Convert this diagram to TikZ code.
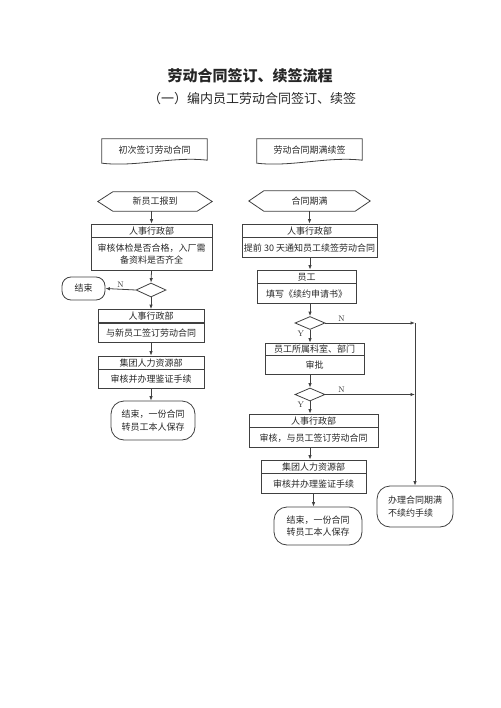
\documentclass[tikz,border=0pt]{standalone}
\usepackage{fontspec}
\usepackage{tikz}
\usetikzlibrary{positioning,shapes.geometric,arrows.meta}
\newfontfamily\cjk{Noto Sans CJK SC}
\colorlet{lineGray}{black!75}
\colorlet{textGray}{black!85}

% frames drawn round a plain text node
\newcommand\docframe[1]{%
  \draw[frame] ([yshift=-2pt]#1.south west) -- (#1.north west) -- (#1.north east)
    -- ([yshift=1pt]#1.south east)
    .. controls ([xshift=-35pt,yshift=5pt]#1.south east) and ([xshift=35pt,yshift=-6pt]#1.south west)
    .. ([yshift=-2pt]#1.south west) -- cycle;}
\newcommand\hexframe[1]{%
  \draw[frame] (#1.west) -- ([xshift=15pt]#1.north west) -- ([xshift=-15pt]#1.north east)
    -- (#1.east) -- ([xshift=-15pt]#1.south east) -- ([xshift=15pt]#1.south west) -- cycle;}

\begin{document}
\begin{tikzpicture}[
  x=1pt, y=-1pt,
  frame/.style={draw=lineGray, line width=.8pt},
  txt/.style={font=\cjk\fontsize{9}{12.5}\selectfont, text=textGray, inner sep=0pt},
  hdr/.style={txt, frame, minimum height=13pt, text depth=-1pt},
  body/.style={txt, frame, align=center},
  term/.style={txt, frame, rounded corners=13pt, align=center},
  dec/.style={frame, diamond, minimum width=30pt, minimum height=14pt, inner sep=0pt},
  arr/.style={-{Latex[length=4.5pt,width=3.5pt]}, draw=lineGray, line width=.8pt},
  lbl/.style={font=\fontsize{8}{9}\selectfont, text=textGray, inner sep=1.5pt},
]
  \useasboundingbox (0,0) rectangle (500,708);

  \node[font=\cjk\bfseries\fontsize{15}{15}\selectfont, text=textGray] (title) at (250,76) {劳动合同签订、续签流程};
  \node[font=\cjk\fontsize{13}{13}\selectfont, text=textGray] (sub) at (252,99) {（一）编内员工劳动合同签订、续签};

  % left column
  \node[txt, minimum width=105pt, minimum height=22pt] (docL) at (154.5,150) {初次签订劳动合同};
  \docframe{docL}
  \node[txt, minimum width=114pt, minimum height=19pt] (hexL) at (155,201.5) {新员工报到};
  \hexframe{hexL}

  \node[hdr, minimum width=121pt] (hrL1) at (151.5,230.5) {人事行政部};
  \node[body, minimum width=121pt, minimum height=33pt, below=0pt of hrL1] (hrL1b) {审核体检是否合格，入厂需\\备资料是否齐全};
  \node[dec] (decL) at (151,290) {};
  \node[term, rounded corners=9pt, minimum width=43pt, minimum height=23pt] (endL) at (83.5,288.5) {结束};

  \node[hdr, minimum width=106pt] (hrL2) at (151,316) {人事行政部};
  \node[body, minimum width=106pt, minimum height=19pt, below=0pt of hrL2] (hrL2b) {与新员工签订劳动合同};
  \node[hdr, minimum width=106pt] (grpL) at (151,362.5) {集团人力资源部};
  \node[body, minimum width=106pt, minimum height=19pt, below=0pt of grpL] (grpLb) {审核并办理鉴证手续};
  \node[term, minimum width=84pt, minimum height=39pt] (finL) at (153,420.5) {结束，一份合同\\转员工本人保存};

  \draw[arr] (hexL.south -| hrL1) -- (hrL1.north);
  \draw[arr] (hrL1b.south) -- (decL.north);
  \draw[arr] (decL.west) -- node[lbl, above] {N} (endL.east);
  \draw[arr] (decL.south) -- (hrL2.north);
  \draw[arr] (hrL2b.south) -- (grpL.north);
  \draw[arr] (grpLb.south) -- (grpLb.south |- finL.north);

  % right column
  \node[txt, minimum width=105pt, minimum height=22pt] (docR) at (309.5,150) {劳动合同期满续签};
  \docframe{docR}
  \node[txt, minimum width=121pt, minimum height=20pt] (hexR) at (309.5,201) {合同期满};
  \hexframe{hexR}

  \node[hdr, minimum width=135pt] (hrR1) at (309.5,230.5) {人事行政部};
  \node[body, minimum width=135pt, minimum height=20pt, below=0pt of hrR1] (hrR1b) {提前 30 天通知员工续签劳动合同};
  \node[hdr, minimum width=99pt] (empR) at (306.5,276.5) {员工};
  \node[body, minimum width=99pt, minimum height=20pt, below=0pt of empR] (empRb) {填写《续约申请书》};
  \node[dec, minimum height=13pt] (decR1) at (310,323) {};

  \node[hdr, minimum width=99pt, minimum height=12pt] (deptR) at (314.5,349) {员工所属科室、部门};
  \node[body, minimum width=99pt, minimum height=19pt, below=0pt of deptR] (deptRb) {审批};
  \node[dec, minimum height=13pt] (decR2) at (310,394.5) {};

  \node[hdr, minimum width=129pt] (hrR2) at (313.5,420.5) {人事行政部};
  \node[body, minimum width=129pt, minimum height=20pt, below=0pt of hrR2] (hrR2b) {审核，与员工签订劳动合同};
  \node[hdr, minimum width=105pt] (grpR) at (313.5,466.5) {集团人力资源部};
  \node[body, minimum width=105pt, minimum height=20pt, below=0pt of grpR] (grpRb) {审核并办理鉴证手续};
  \node[term, minimum width=88pt, minimum height=38pt] (finR) at (318,526) {结束，一份合同\\转员工本人保存};
  \node[term, align=left, minimum width=76pt, minimum height=41pt] (quitR) at (415,506.5) {办理合同期满\\不续约手续};

  \draw[arr] (hexR.south) -- (hexR.south |- hrR1.north);
  \draw[arr] (decR1 |- hrR1b.south) -- (decR1 |- empR.north);
  \draw[arr] (decR1 |- empRb.south) -- (decR1.north);
  \draw[arr] (decR1.south) -- node[lbl, left, pos=.3, xshift=-4pt] {Y} (decR1 |- deptR.north);
  \draw[arr] (decR1.east) -- node[lbl, above, pos=.18] {N} (decR1 -| quitR.north);
  \draw[arr] (decR1 -| quitR.north) -- (quitR.north);
  \draw[arr] (decR1 |- deptRb.south) -- (decR2.north);
  \draw[arr] (decR2.south) -- node[lbl, left, pos=.3, xshift=-4pt] {Y} (decR2 |- hrR2.north);
  \draw[arr] (decR2.east) -- node[lbl, above, pos=.18] {N} (decR2 -| quitR.north);
  \draw[arr] (decR2 |- hrR2b.south) -- (decR2 |- grpR.north);
  \draw[arr] (grpRb.south) -- (grpRb.south |- finR.north);
\end{tikzpicture}
\end{document}
